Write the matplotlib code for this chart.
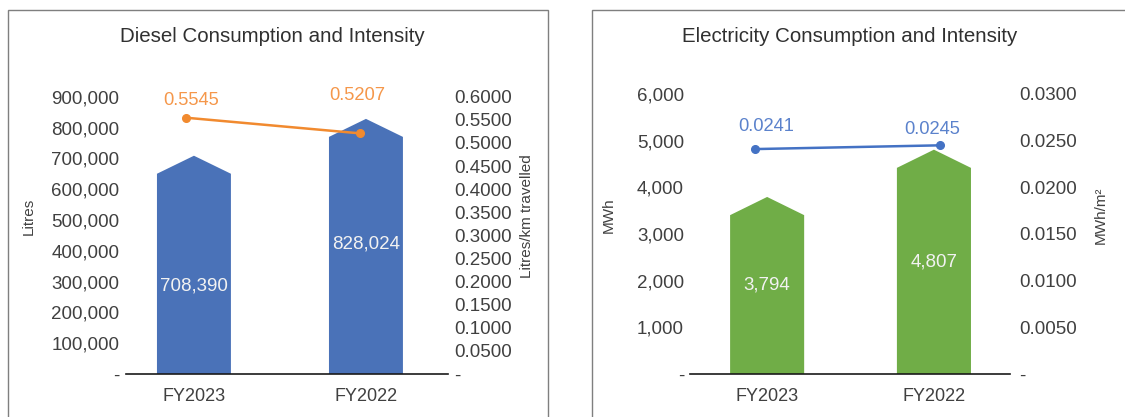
import matplotlib
matplotlib.use("Agg")
import matplotlib.pyplot as plt
from matplotlib.patches import Polygon, Rectangle
from matplotlib.ticker import FuncFormatter, MultipleLocator

# ---------------- data ----------------
categories = ["FY2023", "FY2022"]
diesel_litres = [708390, 828024]
diesel_intensity = [0.5545, 0.5207]
elec_mwh = [3794, 4807]
elec_intensity = [0.0241, 0.0245]

plt.rcParams['font.family'] = ['Liberation Sans', 'DejaVu Sans']

W, H = 1125, 417
fig = plt.figure(figsize=(W / 100, H / 100), dpi=100)


def fx(px):
    return px / W


def fy(py):
    return 1 - py / H


TICK_C = '#404040'
TITLE_C = '#303030'


def left_fmt(v, _):
    return '-' if abs(v) < 1e-9 else f'{v:,.0f}'


def right_fmt(v, _):
    return '-' if abs(v) < 1e-12 else f'{v:.4f}'


def draw_panel(rect, values, intensity, ylim_l, step_l, ylim_r, step_r,
               bar_color, line_color, label_color, xlim, bar_w,
               line_shift, lab_offsets, val_fracs, rpad):
    ax = fig.add_axes(rect)
    ax.set_xlim(*xlim)
    ax.set_ylim(0, ylim_l)
    head = 0.065 * ylim_l
    for i, v in enumerate(values):
        pts = [(i - bar_w / 2, 0), (i - bar_w / 2, v - head), (i, v),
               (i + bar_w / 2, v - head), (i + bar_w / 2, 0)]
        ax.add_patch(Polygon(pts, closed=True, facecolor=bar_color,
                             edgecolor='none', zorder=2))
        ax.text(i, v * val_fracs[i], f'{v:,}', ha='center', va='center',
                fontsize=13.5, color='#F2F2F2', zorder=3)
    for s in ['top', 'left', 'right']:
        ax.spines[s].set_visible(False)
    ax.spines['bottom'].set_color('#1a1a1a')
    ax.spines['bottom'].set_linewidth(1.2)
    ax.spines['bottom'].set_zorder(4)
    ax.set_xticks(range(len(categories)))
    ax.set_xticklabels(categories)
    ax.yaxis.set_major_locator(MultipleLocator(step_l))
    ax.yaxis.set_major_formatter(FuncFormatter(left_fmt))
    ax.tick_params(axis='x', length=0, pad=10, labelsize=13, colors=TICK_C)
    ax.tick_params(axis='y', length=0, pad=4.6, labelsize=13.5, colors=TICK_C)

    ax2 = ax.twinx()
    ax2.set_ylim(0, ylim_r)
    for s in ['top', 'left', 'right', 'bottom']:
        ax2.spines[s].set_visible(False)
    ax2.yaxis.set_major_locator(MultipleLocator(step_r))
    ax2.yaxis.set_major_formatter(FuncFormatter(right_fmt))
    ax2.tick_params(axis='y', length=0, pad=rpad, labelsize=13.5, colors=TICK_C)
    xs = [i + line_shift[i] for i in range(len(intensity))]
    ax2.plot(xs, intensity, color=line_color, lw=1.8, marker='o',
             markersize=5.5, zorder=5)
    for i, v in enumerate(intensity):
        ax2.annotate(f'{v:.4f}', xy=(xs[i], v), xytext=lab_offsets[i],
                     textcoords='offset points', ha='center', va='center',
                     fontsize=13.2, color=label_color)
    return ax, ax2


# Diesel panel
draw_panel([fx(126), fy(374), fx(448) - fx(126), fy(96.7) - fy(374)],
           diesel_litres, diesel_intensity, 900000, 100000, 0.6, 0.05,
           '#4A72B8', '#F18A2F', '#F5974A',
           (-0.395, 1.477), 0.43, [-0.045, -0.035],
           [(3.8, 12.2), (-2.2, 27.6)], [0.405, 0.51], 4.3)

# Electricity panel
draw_panel([fx(690.4), fy(374), fx(1010) - fx(690.4), fy(94) - fy(374)],
           elec_mwh, elec_intensity, 6000, 1000, 0.03, 0.005,
           '#70AD47', '#4472C4', '#5B82CC',
           (-0.46, 1.456), 0.444, [-0.07, 0.035],
           [(7.6, 16.1), (-5.5, 11.7)], [0.5, 0.5], 6.5)

# titles
fig.text(fx(272), fy(36.7), 'Diesel Consumption and Intensity', ha='center',
         va='center', fontsize=14.8, color=TITLE_C)
fig.text(fx(850), fy(36.7), 'Electricity Consumption and Intensity',
         ha='center', va='center', fontsize=14.8, color=TITLE_C)

# axis labels
fig.text(fx(28.6), fy(216), 'Litres', rotation=90, ha='center', va='center',
         fontsize=11, color=TICK_C)
fig.text(fx(527), fy(216), 'Litres/km travelled', rotation=90, ha='center',
         va='center', fontsize=11, color=TICK_C)
fig.text(fx(609), fy(215), 'MWh', rotation=90, ha='center', va='center',
         fontsize=11, color=TICK_C)
fig.text(fx(1101), fy(215), 'MWh/m²', rotation=90, ha='center', va='center',
         fontsize=11, color=TICK_C)

# panel borders
fig.add_artist(Rectangle((fx(8), -0.1), fx(547.5) - fx(8), fy(10) + 0.1,
                         transform=fig.transFigure, fill=False,
                         edgecolor='#7F7F7F', lw=1.0))
fig.add_artist(Rectangle((fx(592), -0.1), 1.0, fy(10) + 0.1,
                         transform=fig.transFigure, fill=False,
                         edgecolor='#7F7F7F', lw=1.0))

fig.savefig('out.png', dpi=100)
